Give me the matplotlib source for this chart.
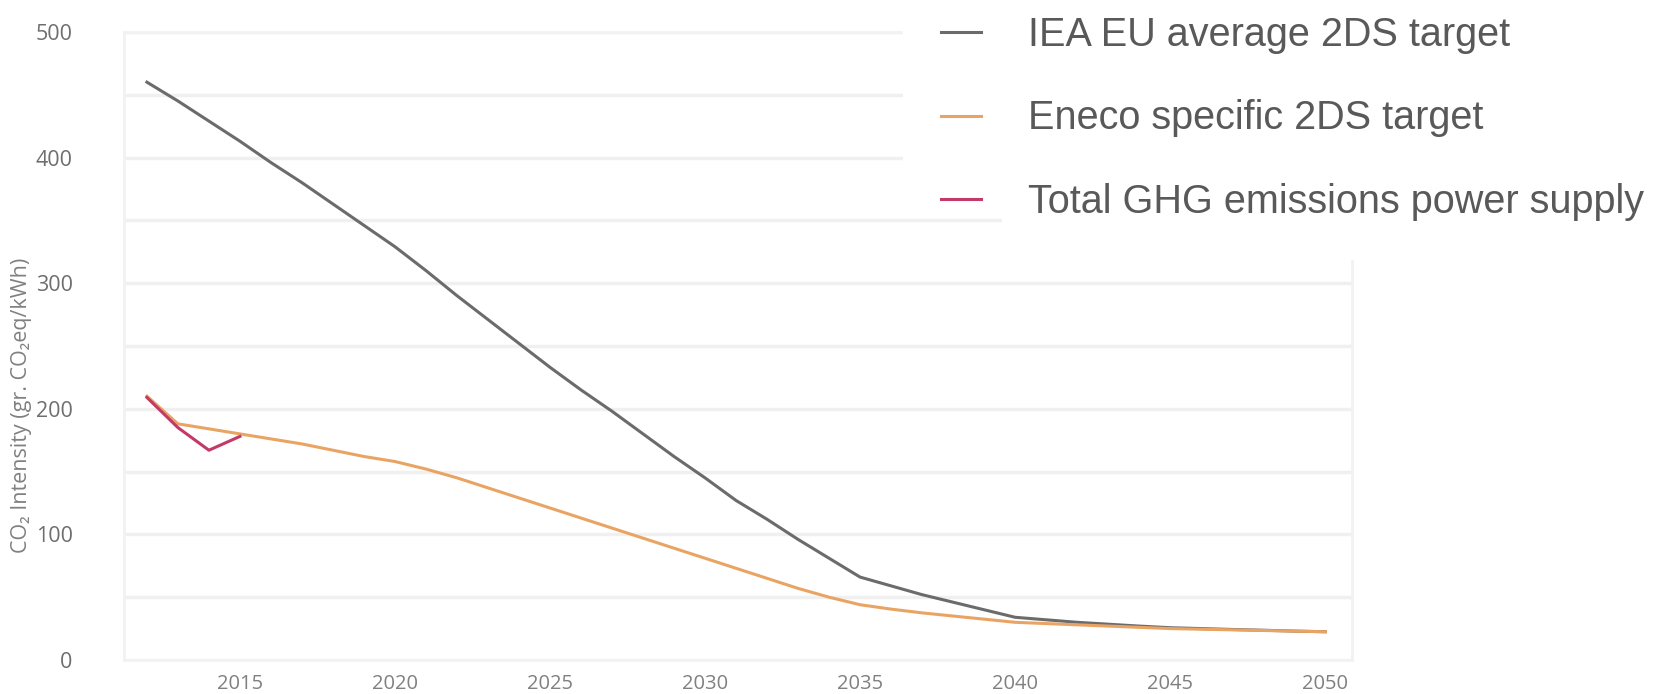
import matplotlib.pyplot as plt
from matplotlib.ticker import MultipleLocator
from matplotlib.patches import Rectangle

years = list(range(2012, 2051))
iea = [460, 445, 429, 413, 396, 380, 363, 346, 329, 310, 290, 271, 252, 233,
       215, 198, 180, 162, 145, 127, 112, 96, 81, 66, 59, 52, 46, 40, 34,
       32, 30, 28.5, 27, 25.7, 25, 24.3, 23.7, 23, 22.5]
eneco = [210, 188, 184, 180, 176, 172, 167, 162, 158, 152, 145, 137, 129, 121,
         113, 105, 97, 89, 81, 73, 65, 57, 50, 44, 40.5, 37.5, 35, 32.5, 30,
         29, 28, 27, 26, 25, 24.5, 24, 23.5, 23, 22.5]
ghg_years = [2012, 2013, 2014, 2015]
ghg = [209, 185, 167, 178]

labels = ['IEA EU average 2DS target', 'Eneco specific 2DS target',
          'Total GHG emissions power supply']
colors = ['#6b6b6b', '#e9a463', '#c23a66']

fig = plt.figure(figsize=(16.53, 6.94), dpi=100)
ax = fig.add_axes([0.075, 0.049, 0.743, 0.905])

ax.plot(years, iea, color=colors[0], lw=2.2, label=labels[0])
ax.plot(years, eneco, color=colors[1], lw=2.2, label=labels[1])
ax.plot(ghg_years, ghg, color=colors[2], lw=2.2, label=labels[2])

ax.set_xlim(2011.26, 2050.87)
ax.set_ylim(0, 500)
ax.set_xticks(range(2015, 2051, 5))
ax.yaxis.set_major_locator(MultipleLocator(100))
ax.yaxis.set_minor_locator(MultipleLocator(50))
ax.grid(True, which='both', axis='y', color='#f0f0f0', lw=2.5)
ax.set_axisbelow(True)
for s in ax.spines.values():
    s.set_color('#f2f2f2')
    s.set_linewidth(2)

ax.tick_params(axis='y', which='both', length=0, pad=37, labelsize=15.5,
               labelcolor='#6e6e6e')
ax.tick_params(axis='x', length=0, pad=10, labelsize=14.5, labelcolor='#808080')
for t in ax.get_xticklabels() + ax.get_yticklabels():
    t.set_family(['Open Sans', 'DejaVu Sans'])

ax.set_ylabel('CO\u2082 Intensity (gr. CO\u2082eq/kWh)', fontsize=15.5,
              color='#808080', family=['Open Sans', 'DejaVu Sans'])
ax.yaxis.set_label_coords(-0.075, 0.405)

# white panel behind the legend (the legend was pasted over the grid)
fig.add_artist(Rectangle((0.546, 0.705), 0.46, 0.3, transform=fig.transFigure,
                         facecolor='white', edgecolor='none', zorder=5))
fig.add_artist(Rectangle((0.606, 0.625), 0.4, 0.1, transform=fig.transFigure,
                         facecolor='white', edgecolor='none', zorder=5))

leg = fig.legend(loc='upper left', bbox_to_anchor=(0.561, 0.997),
                 prop={'family': 'Liberation Sans', 'size': 28.5},
                 handlelength=1.0, handletextpad=1.2, labelspacing=1.15,
                 frameon=False, borderpad=0.15, borderaxespad=0.2)
leg.set_zorder(6)
for t in leg.get_texts():
    t.set_color('#595959')

fig.savefig('out.png', dpi=100)
